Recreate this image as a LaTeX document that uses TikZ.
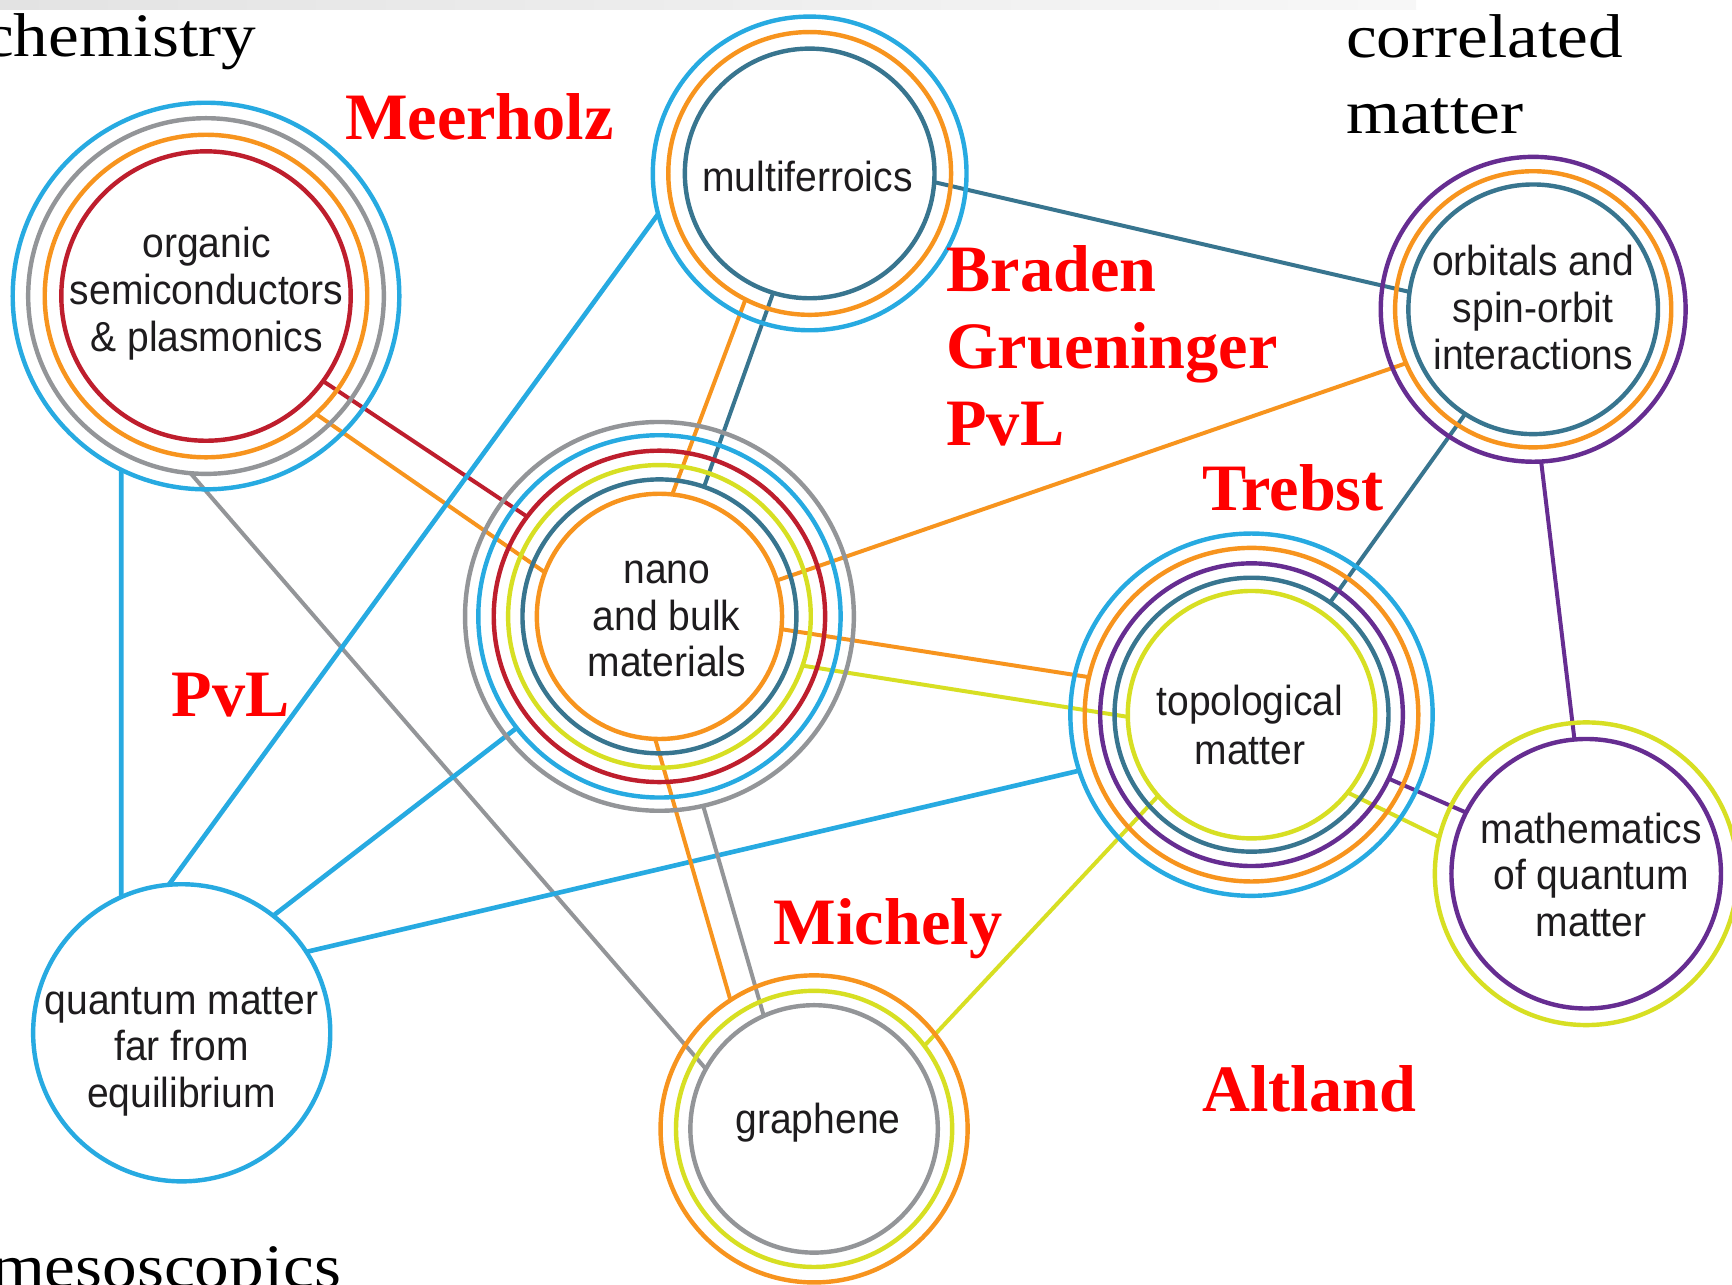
\documentclass[tikz,border=0pt]{standalone}
\usepackage{fontspec}
\setmainfont{Liberation Serif}
\newfontfamily\labsans[FakeStretch=0.93]{Liberation Sans}
\newfontfamily\areaserif[FakeStretch=1.12]{Liberation Serif}
\pgfdeclarelayer{bg}
\pgfsetlayers{bg,main}
\definecolor{cblue}{RGB}{39,170,225}
\definecolor{cgray}{RGB}{147,149,152}
\definecolor{corange}{RGB}{247,148,30}
\definecolor{cred}{RGB}{190,30,45}
\definecolor{cteal}{RGB}{56,117,143}
\definecolor{cgreen}{RGB}{215,223,35}
\definecolor{cpurple}{RGB}{102,45,145}
\definecolor{ctext}{RGB}{30,28,30}
\tikzset{
  rng/.style 2 args={circle, draw=#1, line width=2pt, inner sep=0pt, outer sep=0pt, minimum size=#2pt},
  link/.style={draw=#1, line width=1.8pt},
  blink/.style={draw=cblue, line width=2.1pt},
  nodetext/.style={font=\labsans\fontsize{19}{21.2}\selectfont, align=center, text=ctext, inner sep=0pt},
  author/.style={font=\bfseries\fontsize{30}{34}\selectfont, text=red, anchor=base west, inner sep=0pt},
  area/.style={font=\areaserif\fontsize{28}{34}\selectfont, text=black, inner sep=0pt},
}
\begin{document}
\begin{tikzpicture}[x=0.5pt, y=-0.5pt]
\useasboundingbox (0,0) rectangle (1568,1163);
\clip (0,0) rectangle (1568,1163);
% top band
\fill[left color=gray!22, right color=gray!6] (0,0) rectangle (1282,8.5);

% organic semiconductors
\node[rng={cred}{131}] (Ored) at (186.5,268) {};
\node[rng={corange}{146}] (Oorange) at (186.5,268) {};
\node[rng={cgray}{161}] (Ogray) at (186.5,268) {};
\node[rng={cblue}{175}] (Oblue) at (186.5,268) {};
\node[nodetext] (Otext) at (187,265.6) {organic\\semiconductors\\\& plasmonics};

% multiferroics
\node[rng={cteal}{113}] (Mteal) at (733,157) {};
\node[rng={corange}{128}] (Morange) at (733,157) {};
\node[rng={cblue}{142}] (Mblue) at (733,157) {};
\node[nodetext, anchor=base] (Mtext) at (731,173) {multiferroics};

% orbitals
\node[rng={cteal}{113}] (Orteal) at (1388,280) {};
\node[rng={corange}{125}] (Ororange) at (1388,280) {};
\node[rng={cpurple}{138}] (Orpurple) at (1388,280) {};
\node[nodetext] (Ortext) at (1388,278.5) {orbitals and\\spin-orbit\\interactions};

% nano and bulk
\node[rng={corange}{111}] (Norange) at (597,558) {};
\node[rng={cteal}{124}] (Nteal) at (597,558) {};
\node[rng={cgreen}{137}] (Ngreen) at (597,558) {};
\node[rng={cred}{150}] (Nred) at (597,558) {};
\node[rng={cblue}{164}] (Nblue) at (597,558) {};
\node[rng={cgray}{176}] (Ngray) at (597,558) {};
\node[nodetext] (Ntext) at (603.6,560.4) {nano\\and bulk\\materials};

% topological matter
\node[rng={cgreen}{112}] (Tgreen) at (1133,647) {};
\node[rng={cteal}{124}] (Tteal) at (1133,647) {};
\node[rng={cpurple}{137}] (Tpurple) at (1133,647) {};
\node[rng={corange}{151}] (Torange) at (1133,647) {};
\node[rng={cblue}{164}] (Tblue) at (1133,647) {};
\node[nodetext, font=\labsans\fontsize{19}{22.2}\selectfont] (Ttext) at (1131.6,656.6) {topological\\matter};

% mathematics of quantum matter
\node[rng={cpurple}{122}] (Mapurple) at (1436,791) {};
\node[rng={cgreen}{137}] (Magreen) at (1436,791) {};
\node[nodetext] (Matext) at (1440.5,792.1) {mathematics\\of quantum\\matter};

% quantum matter far from equilibrium
\node[rng={cblue}{134.5}] (Qblue) at (164.5,935) {};
\node[nodetext] (Qtext) at (164.3,952.1) {quantum matter\\far from\\equilibrium};

% graphene
\node[rng={cgray}{112}] (Ggray) at (737,1022) {};
\node[rng={cgreen}{125}] (Ggreen) at (737,1022) {};
\node[rng={corange}{139}] (Gorange) at (737,1022) {};
\node[nodetext, anchor=base] (Gtext) at (740.6,1026) {graphene};

% connectors
\begin{pgfonlayer}{bg}
\fill[white] (0,8.5) rectangle (1568,1163);
\draw[link=cred] (Ored.-36.9) -- (Nred.143.7);
\draw[link=corange] (Oorange.-47) -- (Norange.159.6);
\draw[link=cgray] (Ogray.-95.2) -- (Ggray.151.7);
\draw[blink] (Oblue.-116.3) -- (Qblue.114.4);
\draw[blink] (Mblue.195.7) -- (Qblue.95.5);
\draw[blink] (Nblue.218.2) -- (Qblue.52.1);
\draw[blink] (Tblue.198.2) -- (Qblue.33.2);
\draw[link=corange] (Morange.-117.5) -- (Norange.84.4);
\draw[link=cteal] (Mteal.253.4) -- (Nteal.71.3);
\draw[link=cteal] (Mteal.-4.6) -- (Orteal.172.6);
\draw[link=corange] (Norange.17.5) -- (Ororange.203.5);
\draw[link=cteal] (Orteal.237.5) -- (Tteal.55.7);
\draw[link=cpurple] (Orpurple.-87.5) -- (Mapurple.95.1);
\draw[link=corange] (Norange.-6) -- (Torange.167.1);
\draw[link=cgreen] (Ngreen.-19) -- (Tgreen.181.6);
\draw[link=corange] (Norange.-92.8) -- (Gorange.123.9);
\draw[link=cgray] (Ngray.-77.6) -- (Ggray.114.8);
\draw[link=cgreen] (Tgreen.221.4) -- (Ggreen.37.8);
\draw[link=cpurple] (Tpurple.-25.6) -- (Mapurple.153);
\draw[link=cgreen] (Tgreen.-39.1) -- (Magreen.166.4);
\end{pgfonlayer}

% field labels
\node[area, anchor=base east] (chem) at (232.4,51.3) {chemistry};
\node[area, anchor=base west] (corr1) at (1218.3,51.9) {correlated};
\node[area, anchor=base west] (corr2) at (1218.3,120.7) {matter};
\node[area, anchor=base east] (meso) at (309.3,1165.4) {mesoscopics};

% names
\node[author] (meerholz) at (312,126.1) {Meerholz};
\node[author] (braden) at (856.4,264) {Braden};
\node[author] (grueninger) at (856.4,333.4) {Grueninger};
\node[author] (pvl1) at (856.4,402.9) {PvL};
\node[author] (trebst) at (1087.9,461.7) {Trebst};
\node[author] (pvl2) at (155,649) {PvL};
\node[author] (michely) at (700.2,855.5) {Michely};
\node[author] (altland) at (1088.2,1006.4) {Altland};
\end{tikzpicture}
\end{document}
